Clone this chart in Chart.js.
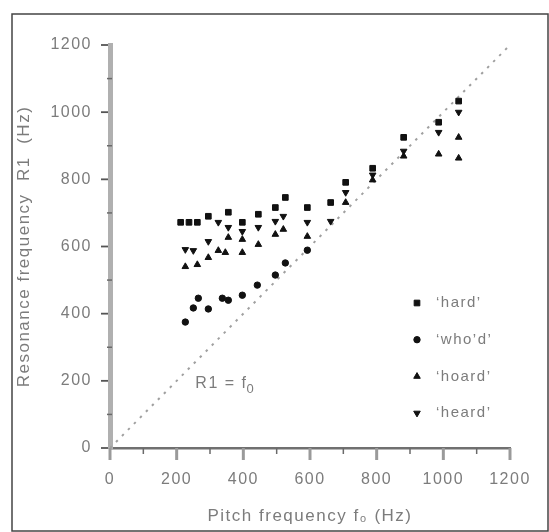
<!DOCTYPE html>
<html><head><meta charset="utf-8">
<style>html,body{margin:0;padding:0;background:#fff}#c{display:block}</style>
<script src="https://cdn.jsdelivr.net/npm/chart.js@4"></script>
</head><body>
<canvas id="c" width="549" height="532"></canvas>
<script>
// ---- data ----
const hardF0  = [212,237,262,295,355,397,445,496,526,592,662,707,788,881,986,1046];
const hardR1  = [672,672,672,690,702,672,696,716,746,716,731,791,833,925,970,1033];
const whodF0  = [226,250,265,295,337,355,397,442,496,526,592];
const whodR1  = [375,417,446,414,446,440,455,485,515,551,589];
const hoardF0 = [226,262,295,325,346,355,397,397,445,496,520,592,707,788,881,986,1046,1046];
const hoardR1 = [540,546,567,588,582,627,621,582,606,636,651,630,731,798,869,875,925,863];
const heardF0 = [226,250,295,325,355,397,445,496,520,592,662,707,788,881,986,1046];
const heardR1 = [591,588,615,672,657,645,657,675,690,672,675,761,813,884,940,1000];
const seriesLabels = ["\u2018hard\u2019","\u2018who\u2019d\u2019","\u2018hoard\u2019","\u2018heard\u2019"];
const tickValues = [0,200,400,600,800,1000,1200];
const minorTickValues = [100,300,500,700,900,1100];
const diagonal = [0,1200];

const pts = (xs, ys) => xs.map((x,i)=>({x:x, y:ys[i]}));
const GRAY = '#7c7c7c';
const FONT = 'Liberation Sans, Arial, sans-serif';

const decor = {
  id:'decor',
  beforeDraw(chart){ chart.ctx.letterSpacing = '1.5px'; },
  afterDraw(chart){
    const ctx = chart.ctx, xs = chart.scales.x, ys = chart.scales.y;
    ctx.save();
    ctx.letterSpacing = '0px';
    // major ticks
    tickValues.forEach(v=>{
      const px = xs.getPixelForValue(v);
      ctx.strokeStyle = '#9a9a9a'; ctx.lineWidth = 3;
      ctx.beginPath(); ctx.moveTo(px, ys.bottom); ctx.lineTo(px, ys.bottom+12); ctx.stroke();
      const py = ys.getPixelForValue(v);
      ctx.strokeStyle = '#555'; ctx.lineWidth = 1.8;
      ctx.beginPath(); ctx.moveTo(xs.left-9, py); ctx.lineTo(xs.left-2, py); ctx.stroke();
    });
    // minor ticks
    ctx.strokeStyle = '#6a6a6a'; ctx.lineWidth = 1.5;
    minorTickValues.forEach(v=>{
      const px = xs.getPixelForValue(v);
      ctx.beginPath(); ctx.moveTo(px, ys.bottom); ctx.lineTo(px, ys.bottom+6); ctx.stroke();
      const py = ys.getPixelForValue(v);
      ctx.beginPath(); ctx.moveTo(xs.left-3, py); ctx.lineTo(xs.left+2, py); ctx.stroke();
    });
    // frame
    ctx.strokeStyle = '#444'; ctx.lineWidth = 1.5;
    ctx.strokeRect(12, 14, 536, 517);
    // annotation R1 = f0
    ctx.letterSpacing = '1.5px';
    ctx.fillStyle = GRAY; ctx.textBaseline = 'alphabetic'; ctx.textAlign = 'left';
    ctx.font = '16px ' + FONT;
    const ax = xs.getPixelForValue(256), ay = ys.getPixelForValue(180);
    const t = 'R1 = f';
    ctx.fillText(t, ax, ay);
    const w = ctx.measureText(t).width;
    ctx.font = '13px ' + FONT;
    ctx.fillText('0', ax + w - 1, ay + 5);
    // legend
    ctx.font = '15px ' + FONT;
    ctx.textBaseline = 'middle';
    chart.data.datasets.forEach((ds, i)=>{
      if (i > 3) return;
      const lx = 417, ly = 303 + i*36.7;
      ctx.fillStyle = '#111'; ctx.strokeStyle = '#111'; ctx.lineWidth = 1;
      Chart.helpers.drawPoint(ctx, {pointStyle: ds.pointStyle, radius: ds.pointRadius, rotation: ds.rotation||0, borderWidth:1}, lx, ly);
      ctx.fillStyle = GRAY;
      ctx.fillText(ds.label, 436, ly);
    });
    ctx.restore();
  }
};

const mk = (label, data, style, r, rot) => ({
  label, data, type:'scatter', pointStyle: style, pointRadius: r, pointHoverRadius: r,
  rotation: rot||0, backgroundColor:'#111', borderColor:'#111', borderWidth:1, showLine:false
});

new Chart(document.getElementById('c'), {
  type: 'scatter',
  data: { datasets: [
    mk(seriesLabels[0], pts(hardF0, hardR1), 'rect', 4),
    mk(seriesLabels[1], pts(whodF0, whodR1), 'circle', 3.2),
    mk(seriesLabels[2], pts(hoardF0, hoardR1), 'triangle', 3.8),
    Object.assign(mk(seriesLabels[3], pts(heardF0, heardR1), 'triangle', 3.8), {rotation:180}),
    { label:'R1 = f0', type:'line', data: pts(diagonal, diagonal), borderColor:'#a0a0a0', borderWidth:2,
      borderDash:[2.5,6], pointRadius:0, fill:false }
  ]},
  options: {
    responsive:false, animation:false, devicePixelRatio:1,
    layout:{ padding:{ top:45, right:39, left:0, bottom:0 } },
    plugins:{ legend:{display:false}, tooltip:{enabled:false} },
    scales:{
      x:{ type:'linear', min:0, max:1200,
        afterBuildTicks: s => { s.ticks = tickValues.map(v=>({value:v})); },
        ticks:{ color:GRAY, font:{family:FONT, size:16}, padding:10, callback: v => String(v) },
        grid:{ drawOnChartArea:false, tickLength:12, tickColor:'rgba(0,0,0,0)', tickWidth:1 },
        border:{ color:'#707070', width:2.5 },
        title:{ display:true, text:'Pitch frequency f\u2080 (Hz)', color:GRAY, font:{family:FONT, size:17}, padding:{top:0,bottom:5} },
        afterFit: s => { s.height = 84; }
      },
      y:{ type:'linear', min:0, max:1200,
        afterBuildTicks: s => { s.ticks = tickValues.map(v=>({value:v})); },
        ticks:{ color:GRAY, font:{family:FONT, size:16}, padding:10, callback: v => String(v) },
        grid:{ drawOnChartArea:false, tickLength:8, tickColor:'rgba(0,0,0,0)', tickWidth:1 },
        border:{ color:'#b0b0b0', width:5 },
        title:{ display:true, text:'Resonance frequency  R1  (Hz)', color:GRAY, font:{family:FONT, size:17}, padding:{top:14,bottom:0} },
        afterFit: s => { s.width = 110; }
      }
    }
  },
  plugins:[decor]
});
</script>
</body></html>
